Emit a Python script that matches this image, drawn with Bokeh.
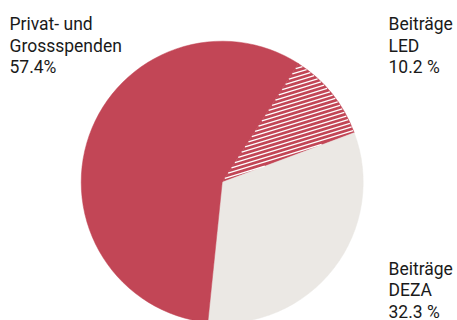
import numpy as np
from bokeh.plotting import figure
from bokeh.models import Range1d, ColumnDataSource
from bokeh.embed import file_html
from bokeh.resources import INLINE
from bokeh.core.properties import value

# ---- data ----
categories = ["Beiträge LED", "Beiträge DEZA", "Privat- und Grossspenden"]
shares = [10.2, 32.3, 57.4]
label_lines = [["Beiträge", "LED", "10.2 %"],
               ["Beiträge", "DEZA", "32.3 %"],
               ["Privat- und", "Grossspenden", "57.4%"]]
colors = ["#C24656", "#EBE8E4", "#C24656"]
hatched = [True, False, False]

# ---- layout ----
W, H = 457, 320
cx, cy, R = 221.7, H - 181.7, 141.0
start_deg = 32.7  # clockwise from 12 o'clock

fr = np.array(shares) / sum(shares)
cum = np.concatenate([[0.0], np.cumsum(fr)])
th0 = np.deg2rad(start_deg) + 2 * np.pi * cum[:-1]
th1 = np.deg2rad(start_deg) + 2 * np.pi * cum[1:]

src = ColumnDataSource(dict(
    cat=categories, share=shares, color=colors,
    start=list(np.pi / 2 - th0), end=list(np.pi / 2 - th1),
    x=[cx] * 3, y=[cy] * 3,
))

p = figure(width=W, height=H, x_range=Range1d(0, W), y_range=Range1d(0, H),
           output_backend="svg", toolbar_location=None, min_border=0)
p.axis.visible = False
p.grid.visible = False
p.outline_line_color = None
p.background_fill_color = "white"
p.border_fill_color = "white"

p.wedge(x="x", y="y", radius=R, start_angle="start", end_angle="end",
        direction="clock", fill_color="color", line_color="color", line_width=0.5,
        source=src)

# hatch lines for hatched slices (clipped to sector)
phi = np.deg2rad(17)
d = np.array([np.cos(phi), np.sin(phi)])
n = np.array([-np.sin(phi), np.cos(phi)])
spacing = 4.0
xs, ys = [], []
t = np.linspace(-R, R, 4000)
for i, h in enumerate(hatched):
    if not h:
        continue
    for off in np.arange(-R, R, spacing):
        px = cx + n[0] * off + d[0] * t
        py = cy + n[1] * off + d[1] * t
        dx, dy = px - cx, py - cy
        r = np.hypot(dx, dy)
        th = np.mod(np.arctan2(dx, dy), 2 * np.pi)
        a0 = np.mod(th0[i], 2 * np.pi)
        a1 = a0 + (th1[i] - th0[i])
        th = np.where(th < a0, th + 2 * np.pi, th)
        inside = (r <= R - 0.3) & (th >= a0 + 0.004) & (th <= a1 - 0.004)
        if inside.sum() < 2:
            continue
        idx = np.where(inside)[0]
        xs.append([px[idx[0]], px[idx[-1]]])
        ys.append([py[idx[0]], py[idx[-1]]])
p.multi_line(xs=xs, ys=ys, line_color="white", line_width=1.3)

# labels (one text per line, baselines in screen pixels)
label_x = [388, 388, 9]
label_top_baseline = [23.5, 268.0, 23.5]
line_gap = 21.5
tx, ty, tt = [], [], []
for lines, x0, b0 in zip(label_lines, label_x, label_top_baseline):
    for j, s in enumerate(lines):
        tx.append(x0)
        ty.append(H - b0 - j * line_gap)
        tt.append(s)
p.text(x=tx, y=ty, text=tt, text_font=value("Roboto"),
       text_font_size="17.5px", text_color="#1a1a1a", text_baseline="alphabetic",
       text_align="left")

open("out.html", "w").write(file_html(p, INLINE))
